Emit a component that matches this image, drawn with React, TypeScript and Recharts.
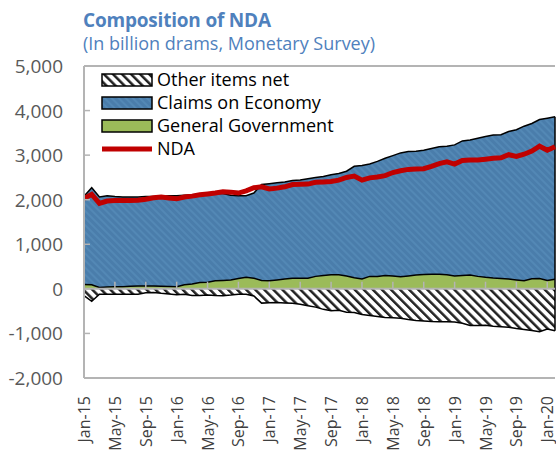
import React from 'react';
import {
  ComposedChart,
  Area,
  Line,
  XAxis,
  YAxis,
  ReferenceLine,
  Legend
} from 'recharts';

// monthly, Jan-15 .. Feb-20
const MONTHS = ['Jan', 'Feb', 'Mar', 'Apr', 'May', 'Jun', 'Jul', 'Aug', 'Sep', 'Oct', 'Nov', 'Dec'];
const YEARS = ['15', '16', '17', '18', '19', '20'];
const categories = YEARS.flatMap((y) => MONTHS.map((m) => `${m}-${y}`)).slice(0, 62);

const claimsOnEconomy = [
  2080, 2270, 2060, 2090, 2070, 2060, 2060, 2060, 2070, 2070, 2080, 2090,
  2090, 2100, 2110, 2120, 2130, 2140, 2140, 2100, 2090, 2090, 2150, 2340,
  2360, 2380, 2400, 2430, 2440, 2470, 2500, 2520, 2560, 2590, 2640, 2750,
  2770, 2800, 2860, 2930, 2990, 3050, 3080, 3090, 3110, 3150, 3190, 3200,
  3230, 3320, 3340, 3380, 3420, 3450, 3460, 3530, 3570, 3650, 3710, 3800,
  3830, 3860
];

const generalGovernment = [
  100, 90, 30, 40, 45, 50, 60, 65, 65, 65, 60, 55,
  50, 90, 110, 140, 150, 180, 190, 200, 230, 260, 240, 190,
  180, 200, 220, 240, 240, 240, 280, 300, 315, 315, 290, 250,
  220, 280, 280, 300, 290, 270, 290, 310, 320, 330, 325, 315,
  290, 300, 310, 280, 260, 245, 235, 220, 200, 180, 225, 230,
  190, 215
];

const otherItemsNet = [
  -150, -280, -120, -120, -120, -120, -120, -120, -85, -80, -100, -115,
  -130, -120, -150, -150, -140, -150, -155, -140, -120, -120, -160, -320,
  -310, -305, -315, -325, -345, -380, -410, -460, -490, -480, -525, -530,
  -575, -600, -620, -640, -650, -660, -690, -710, -720, -735, -740, -740,
  -745, -770, -820, -820, -815, -840, -850, -860, -890, -910, -935, -960,
  -900, -940
];

const nda = [
  2030, 2120, 1920, 1970, 1980, 1985, 1985, 1990, 2010, 2045, 2060, 2040,
  2020, 2060, 2080, 2110, 2130, 2150, 2180, 2170, 2150, 2200, 2270, 2290,
  2240, 2260, 2290, 2340, 2345, 2350, 2390, 2400, 2410, 2440, 2500, 2530,
  2440, 2490, 2510, 2540, 2610, 2650, 2680, 2690, 2695, 2750, 2810, 2850,
  2800, 2880, 2890, 2890, 2910, 2930, 2940, 3010, 2970, 3020, 3090, 3200,
  3110, 3190
];

const yTicks = [-2000, -1000, 0, 1000, 2000, 3000, 4000, 5000];

const data = categories.map((month, i) => ({
  month,
  claims: claimsOnEconomy[i],
  gov: generalGovernment[i],
  other: otherItemsNet[i],
  nda: nda[i]
}));

const zeroTicks = categories.filter((_, i) => i % 4 === 0 && i > 0);

const FONT = '"Open Sans", "Noto Sans", sans-serif';
const AXIS = '#B4B4B4';
const BLUE = '#4A7DAB';
const GREEN = '#9BBB59';
const RED = '#C00000';
const TITLE = '#4F81BD';

const YTick = (props: any) => {
  const { x, y, payload } = props;
  return (
    <g>
      <line x1={x + 21} x2={x + 27} y1={y} y2={y} stroke={AXIS} strokeWidth={1.5} />
      <text x={x} y={y} dy={7} textAnchor="end" fill="#595959" fontSize={19} fontFamily={FONT}>
        {payload.value.toLocaleString('en-US')}
      </text>
    </g>
  );
};

const XTick = (props: any) => {
  const { x, y, payload } = props;
  return (
    <text
      transform={`translate(${x + 6},${y + 16}) rotate(-90)`}
      textAnchor="end"
      fill="#404040"
      fontSize={16}
      fontFamily={FONT}
    >
      {payload.value}
    </text>
  );
};

const legendItems = [
  { name: 'Other items net', fill: 'url(#hatch)' },
  { name: 'Claims on Economy', fill: 'url(#blueFill)' },
  { name: 'General Government', fill: GREEN },
  { name: 'NDA', line: RED }
];

const LegendBox = () => (
  <div style={{ fontFamily: FONT, fontSize: 18, color: '#000' }}>
    {legendItems.map((item) => (
      <div key={item.name} style={{ display: 'flex', alignItems: 'center', height: 23 }}>
        <svg width={52} height={14} style={{ flex: 'none' }}>
          {item.line ? (
            <line x1={1} x2={51} y1={7} y2={7} stroke={item.line} strokeWidth={5} />
          ) : (
            <rect x={1} y={1} width={50} height={12} fill={item.fill} stroke="#000" strokeWidth={1.5} />
          )}
        </svg>
        <span style={{ marginLeft: 4, lineHeight: '23px' }}>{item.name}</span>
      </div>
    ))}
  </div>
);

export default function App() {
  return (
    <div
      style={{
        position: 'absolute',
        left: 0,
        top: 0,
        width: 556,
        height: 455,
        overflow: 'hidden',
        background: '#fff'
      }}
    >
      <div
        style={{
          position: 'absolute',
          left: 83,
          top: 9,
          fontFamily: FONT,
          fontWeight: 700,
          fontSize: 19,
          lineHeight: '22px',
          color: TITLE,
          whiteSpace: 'nowrap',
          letterSpacing: -0.2
        }}
      >
        Composition of NDA
      </div>
      <div
        style={{
          position: 'absolute',
          left: 83,
          top: 32,
          fontFamily: FONT,
          fontSize: 18,
          lineHeight: '22px',
          color: TITLE,
          whiteSpace: 'nowrap'
        }}
      >
        (In billion drams, Monetary Survey)
      </div>
      <ComposedChart
        width={556}
        height={455}
        data={data}
        margin={{ top: 66, right: 1, bottom: 7, left: 0 }}
      >
        <defs>
          <pattern id="blueFill" patternUnits="userSpaceOnUse" width="5" height="5" patternTransform="rotate(-45)">
            <rect width="5" height="5" fill={BLUE} />
            <rect width="2" height="5" fill="#5388B5" />
          </pattern>
          <pattern id="hatch" patternUnits="userSpaceOnUse" width="6.4" height="6.4" patternTransform="rotate(-45)">
            <rect width="6.4" height="6.4" fill="#fff" />
            <rect width="2.5" height="6.4" fill="#222" />
          </pattern>
        </defs>
        <XAxis
          dataKey="month"
          interval={3}
          height={70}
          tickLine={false}
          tickSize={0}
          axisLine={{ stroke: AXIS, strokeWidth: 2 }}
          tick={<XTick />}
        />
        <YAxis
          width={84}
          domain={[-2000, 5000]}
          ticks={yTicks}
          tickLine={false}
          tickSize={0}
          tickMargin={21}
          axisLine={{ stroke: AXIS, strokeWidth: 2 }}
          tick={<YTick />}
        />
        <ReferenceLine y={5000} stroke={AXIS} strokeWidth={2} />
        <Area
          dataKey="claims"
          name="Claims on Economy"
          fill="url(#blueFill)"
          fillOpacity={1}
          stroke="#000"
          strokeWidth={1.5}
          type="linear"
          isAnimationActive={false}
        />
        <Area
          dataKey="gov"
          name="General Government"
          fill={GREEN}
          fillOpacity={1}
          stroke="#000"
          strokeWidth={1.5}
          type="linear"
          isAnimationActive={false}
        />
        <Area
          dataKey="other"
          name="Other items net"
          fill="url(#hatch)"
          fillOpacity={1}
          stroke="#000"
          strokeWidth={1.5}
          type="linear"
          isAnimationActive={false}
        />
        <ReferenceLine
          segment={[
            { x: categories[0], y: otherItemsNet[0] },
            { x: categories[0], y: claimsOnEconomy[0] }
          ]}
          stroke="#000"
          strokeWidth={1.5}
        />
        <ReferenceLine
          segment={[
            { x: categories[61], y: otherItemsNet[61] },
            { x: categories[61], y: claimsOnEconomy[61] }
          ]}
          stroke="#000"
          strokeWidth={1.5}
        />
        <ReferenceLine y={0} stroke={AXIS} strokeWidth={2} />
        {zeroTicks.map((c) => (
          <ReferenceLine
            key={c}
            segment={[
              { x: c, y: 0 },
              { x: c, y: 160 }
            ]}
            stroke={AXIS}
            strokeWidth={1.5}
          />
        ))}
        <Line
          dataKey="nda"
          name="NDA"
          stroke={RED}
          strokeWidth={5}
          dot={false}
          type="linear"
          isAnimationActive={false}
        />
        <Legend
          layout="vertical"
          align="center"
          verticalAlign="middle"
          content={<LegendBox />}
          wrapperStyle={{ left: 101, top: 68, width: 'auto', height: 'auto' }}
        />
      </ComposedChart>
    </div>
  );
}
